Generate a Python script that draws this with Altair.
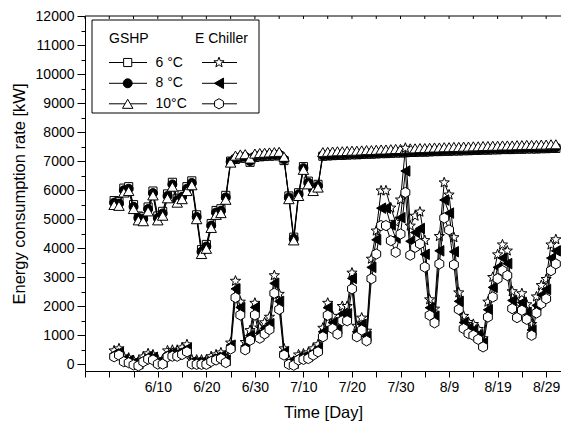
import altair as alt
import pandas as pd

days = list(range(92))  # day 0 = 6/1

gshp_6 = [5640, 5610, 6070, 6120, 5500, 5110, 5080, 5420, 5970, 5110,
          5270, 5870, 6270, 5720, 5840, 6120, 6320, 5150, 3950, 4130,
          4850, 5300, 5360, 5820, 7000, 7060, 7100, 7110, 6960, 7130,
          7150, 7160, 7170, 7180, 7190, 7020, 5800, 4380, 5910, 6810,
          6310, 6080, 6200, 7170, 7180, 7190, 7200, 7200, 7210, 7220,
          7220, 7230, 7240, 7240, 7250, 7260, 7260, 7270, 7280, 7280,
          7290, 7300, 7300, 7310, 7310, 7320, 7330, 7330, 7340, 7340,
          7350, 7350, 7360, 7360, 7370, 7370, 7380, 7380, 7390, 7390,
          7400, 7400, 7400, 7410, 7410, 7420, 7420, 7420, 7430, 7430,
          7440, 7440]
gshp_8 = [5570, 5540, 6000, 6050, 5430, 5040, 5010, 5350, 5900, 5040,
          5200, 5800, 6200, 5650, 5770, 6050, 6250, 5080, 3880, 4060,
          4780, 5230, 5290, 5750, 6980, 7100, 7140, 7150, 7000, 7170,
          7190, 7200, 7210, 7220, 7230, 7060, 5750, 4330, 5860, 6760,
          6260, 6030, 6150, 7200, 7210, 7220, 7230, 7230, 7240, 7250,
          7250, 7260, 7270, 7270, 7280, 7290, 7290, 7300, 7310, 7310,
          7320, 7330, 7330, 7340, 7340, 7350, 7360, 7360, 7370, 7370,
          7380, 7380, 7390, 7390, 7400, 7400, 7410, 7410, 7420, 7420,
          7430, 7430, 7430, 7440, 7440, 7450, 7450, 7450, 7460, 7460,
          7470, 7470]
gshp_10 = [5490, 5460, 5920, 5970, 5350, 4960, 4930, 5270, 5820, 4960,
           5120, 5720, 6120, 5570, 5690, 5970, 6170, 5000, 3800, 3980,
           4700, 5150, 5210, 5670, 6950, 7190, 7230, 7240, 7090, 7260,
           7280, 7290, 7300, 7310, 7320, 7150, 5690, 4270, 5800, 6700,
           6200, 5970, 6090, 7310, 7320, 7330, 7340, 7340, 7350, 7360,
           7360, 7370, 7380, 7380, 7390, 7400, 7400, 7410, 7420, 7420,
           7430, 7440, 7440, 7450, 7450, 7460, 7470, 7470, 7480, 7480,
           7490, 7490, 7500, 7500, 7510, 7510, 7520, 7520, 7530, 7530,
           7540, 7540, 7540, 7550, 7550, 7560, 7560, 7560, 7570, 7570,
           7580, 7580]
ch_6 = [470, 540, 260, 220, 130, 90, 260, 370, 330, 160,
        160, 470, 490, 490, 570, 680, 160, 150, 150, 150,
        270, 330, 400, 220, 740, 2870, 2150, 760, 1170, 2110,
        1260, 1440, 1630, 3060, 2420, 540, 150, 110, 330, 360,
        400, 540, 680, 1250, 2110, 1660, 1430, 2000, 2000, 3150,
        1320, 1600, 1150, 3630, 4600, 5980, 5980, 5390, 4900, 5670,
        7450, 4770, 5110, 5250, 4270, 2230, 1910, 4410, 6260, 5840,
        4370, 2470, 1660, 1450, 1380, 1210, 890, 2150, 3000, 3780,
        4120, 3910, 2510, 2130, 2440, 2060, 1380, 2330, 2720, 2930,
        4120, 4300]
ch_8 = [360, 420, 170, 130, 50, 20, 170, 270, 240, 80,
        80, 360, 380, 380, 450, 550, 80, 70, 70, 70,
        180, 240, 290, 140, 660, 2600, 1960, 630, 990, 1960,
        1070, 1240, 1400, 2790, 2170, 430, 70, 40, 240, 260,
        290, 420, 550, 1120, 1950, 1440, 1220, 1740, 1740, 2960,
        1120, 1380, 970, 3340, 4290, 5380, 5380, 4800, 4350, 5050,
        6660, 4240, 4540, 4680, 3790, 1950, 1660, 3910, 5660, 5210,
        3880, 2170, 1440, 1250, 1180, 1020, 740, 1880, 2650, 3340,
        3660, 3470, 2200, 1860, 2130, 1790, 1180, 2030, 2390, 2580,
        3660, 3910]
ch_10 = [260, 320, 90, 55, -20, -50, 90, 180, 150, 10,
         10, 260, 280, 280, 340, 430, 10, 0, 0, 0,
         100, 150, 200, 60, 530, 2300, 1700, 500, 830, 1700,
         900, 1050, 1200, 2450, 1890, 320, 0, -30, 150, 170,
         200, 320, 430, 950, 1690, 1230, 1040, 1500, 1500, 2600,
         950, 1180, 810, 2950, 3800, 4780, 4780, 4260, 3860, 4490,
         5920, 3760, 4030, 4150, 3350, 1690, 1430, 3460, 5040, 4630,
         3430, 1890, 1230, 1060, 1000, 860, 600, 1630, 2320, 2950,
         3230, 3060, 1920, 1610, 1860, 1550, 1000, 1770, 2090, 2260,
         3230, 3460]

tick_days = [9, 19, 29, 39, 49, 59, 69, 79, 89]
tick_labels = ["6/10", "6/20", "6/30", "7/10", "7/20", "7/30", "8/9", "8/19", "8/29"]
all_tick_days = list(range(-6, 92, 5))
y_ticks = list(range(0, 12001, 500))

STAR = ("M0,-1L0.247,-0.34L0.951,-0.309L0.399,0.13L0.588,0.809L0,0.42"
        "L-0.588,0.809L-0.399,0.13L-0.951,-0.309L-0.247,-0.34Z")
HEX = "M0,-1L0.866,-0.5L0.866,0.5L0,1L-0.866,0.5L-0.866,-0.5Z"

FONT = "Liberation Sans"
W, H = 476, 355

series = [
    (gshp_6, "square", "white", 66),
    (gshp_8, "circle", "black", 80),
    (gshp_10, "triangle-up", "white", 110),
    (ch_6, STAR, "white", 115),
    (ch_8, "triangle-left", "black", 110),
    (ch_10, HEX, "white", 105),
]

xscale = alt.Scale(domain=[-6, 92.06], nice=False, zero=False)
yscale = alt.Scale(domain=[-230, 12000], nice=False, zero=False)

label_expr = ("indexof(%s, datum.value) >= 0 ? %s[indexof(%s, datum.value)] : ''"
              % (str(tick_days), str(tick_labels), str(tick_days)))

xaxis = alt.Axis(title="Time [Day]", values=all_tick_days, labelExpr=label_expr,
                 tickSize=6, labelPadding=3, titlePadding=10, grid=False,
                 labelFontSize=14, titleFontSize=16.5, titleFontWeight="normal",
                 labelFlush=False)
yaxis = alt.Axis(title="Energy consumption rate [kW]", values=y_ticks, format="d",
                 labelExpr="datum.value % 1000 === 0 ? datum.label : ''",
                 tickSize=alt.condition("datum.value % 1000 === 0", alt.value(8), alt.value(4)),
                 labelPadding=3, titlePadding=8, grid=False,
                 labelFontSize=14, titleFontSize=16.5, titleFontWeight="normal")

X = alt.X("day:Q", scale=xscale, axis=xaxis)
Y = alt.Y("value:Q", scale=yscale, axis=yaxis)

layers = []
for vals, shape, fill, size in series:
    df = pd.DataFrame({"day": days, "value": vals})
    base = alt.Chart(df)
    layers.append(base.mark_line(color="black", strokeWidth=1).encode(x=X, y=Y))
    layers.append(base.mark_point(shape=shape, size=size, filled=True, fill=fill,
                                  stroke="black", strokeWidth=1, opacity=1).encode(x=X, y=Y))

# top frame line with inward ticks
one = alt.Data(values=[{"a": 1}])
top_line = alt.Chart(one).mark_rule(color="black", strokeWidth=1).encode(
    x=alt.value(0), x2=alt.value(W), y=alt.value(0))
top_ticks = alt.Chart(pd.DataFrame({"day": all_tick_days})).mark_rule(
    color="black", strokeWidth=1).encode(x=X, y=alt.value(0), y2=alt.value(3))

# legend (plot-area pixel coordinates)
leg = [alt.Chart(one).mark_rect(fill="white", stroke="black", strokeWidth=1).encode(
    x=alt.value(7), x2=alt.value(174), y=alt.value(4), y2=alt.value(97))]

def txt(s, x, y, size=14):
    return alt.Chart(one).mark_text(text=s, font=FONT, fontSize=size, align="left",
                                    baseline="middle", color="black").encode(
        x=alt.value(x), y=alt.value(y))

leg.append(txt("GSHP", 24, 23))
leg.append(txt("E Chiller", 110, 23))
rows_y = [46.5, 67.3, 87.8]
row_txt = ["6 °C", "8 °C", "10°C"]
for i in range(3):
    yv = rows_y[i]
    leg.append(txt(row_txt[i], 70.5, yv))
    for j, (x1, x2, xm) in enumerate([(24, 62, 42.7), (117, 152, 134)]):
        _, shape, fill, size = series[i + 3 * j]
        leg.append(alt.Chart(one).mark_rule(color="black", strokeWidth=1).encode(
            x=alt.value(x1), x2=alt.value(x2), y=alt.value(yv)))
        leg.append(alt.Chart(one).mark_point(shape=shape, size=size, filled=True, fill=fill,
                                             stroke="black", strokeWidth=1, opacity=1).encode(
            x=alt.value(xm), y=alt.value(yv)))

chart = alt.layer(*layers, top_line, top_ticks, *leg).properties(
    width=W, height=H,
    autosize=alt.AutoSizeParams(type="none"),
    padding={"left": 77, "top": 8, "right": 0, "bottom": 55},
).configure_view(stroke=None).configure_axis(
    domainColor="black", tickColor="black", labelColor="black", titleColor="black",
    labelFont=FONT, titleFont=FONT, titleFontWeight="normal", domainWidth=1, tickWidth=1
)

chart.save("out.html", embed_options={"renderer": "svg", "actions": False})
